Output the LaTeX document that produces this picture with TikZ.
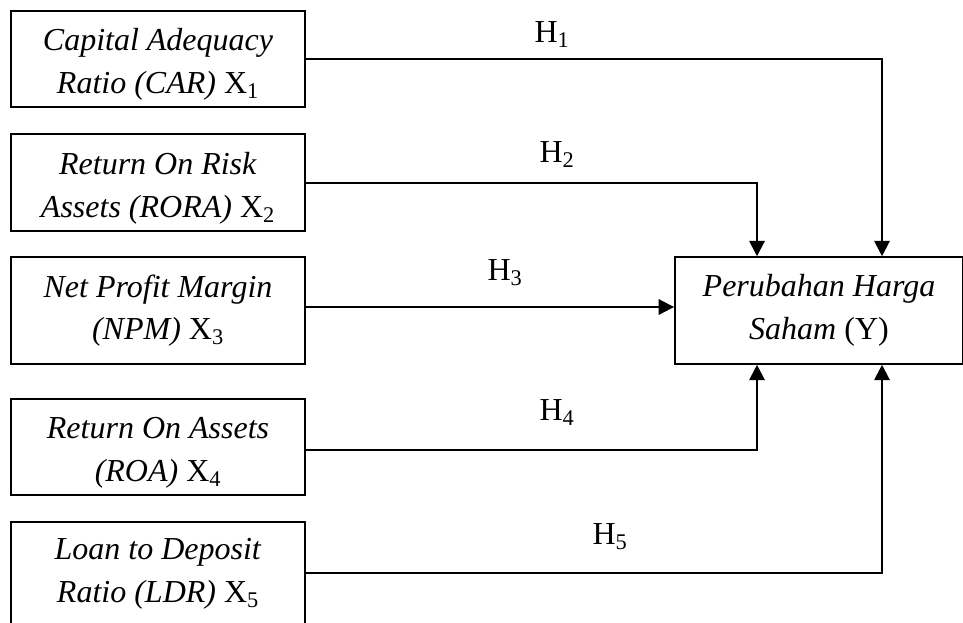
\documentclass[tikz,border=0pt]{standalone}
\usepackage{fontspec}
\setmainfont{Liberation Serif}
\usetikzlibrary{arrows.meta}

\newcommand{\liftstrut}{\rule{0pt}{25pt}}

\begin{document}
\begin{tikzpicture}[x = 0.75pt, y = -0.75pt,
		font = \fontsize{24}{32}\selectfont,
		varbox/.style = {draw, line width = 1.4pt, align = center, inner sep = 0pt, minimum width = 220.5pt, minimum height = 72.5pt},
		hyp/.style = {line width = 1.5pt, -{Triangle[width = 11.5pt, length = 11.5pt]}}]
					\def\xBOX{158};
					\def\xL{757};
					\def\xR{882};

					\useasboundingbox (0,0) rectangle (963,622);

					\begin{scope}
						\node [varbox] (car) at (\xBOX,59) {\liftstrut\textit{Capital Adequacy}\\\textit{Ratio (CAR)} X\textsubscript{1}};
						\node [varbox] (rora) at (\xBOX,182.5) {\liftstrut\textit{Return On Risk}\\\textit{Assets (RORA)} X\textsubscript{2}};
						\node [varbox, minimum height = 80pt] (npm) at (\xBOX,310.5) {\textit{Net Profit Margin}\\\textit{(NPM)} X\textsubscript{3}};
						\node [varbox] (roa) at (\xBOX,447) {\liftstrut\textit{Return On Assets}\\\textit{(ROA)} X\textsubscript{4}};
						\node [varbox, minimum height = 78pt] (ldr) at (\xBOX,574) {\textit{Loan to Deposit}\\\textit{Ratio (LDR)} X\textsubscript{5}};
						\node [varbox, minimum width = 216pt, minimum height = 80pt] (phs) at (819,310.5) {\textit{Perubahan Harga}\\\textit{Saham} (Y)};
					\end{scope}

					\coordinate (colL) at (\xL,0);
					\coordinate (colR) at (\xR,0);

					\begin{scope}
						\draw [hyp] (car.east) -| (phs.north -| colR);
						\draw [hyp] (rora.east) -| (phs.north -| colL);
						\draw [hyp] (npm.east |- 0,307) -- (phs.west |- 0,307);
						\draw [hyp] (roa.east |- 0,450) -| (phs.south -| colL);
						\draw [hyp] (ldr.east |- 0,573) -| (phs.south -| colR);
					\end{scope}

					\begin{scope}
						\node (h1) at (552,35) {H\textsubscript{1}};
						\node (h2) at (557,155) {H\textsubscript{2}};
						\node (h3) at (505,273) {H\textsubscript{3}};
						\node (h4) at (557,413) {H\textsubscript{4}};
						\node (h5) at (610,537) {H\textsubscript{5}};
					\end{scope}
				\end{tikzpicture}
\end{document}
